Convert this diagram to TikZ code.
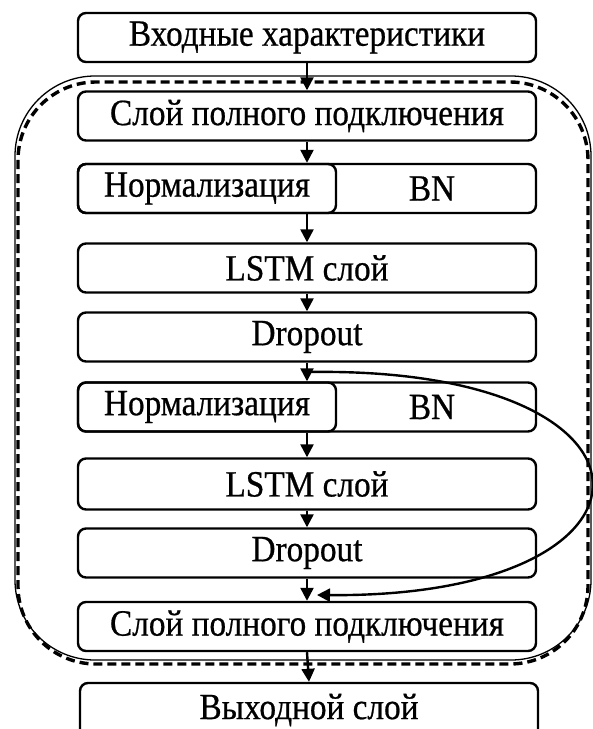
\documentclass[tikz,border=0pt]{standalone}
\usepackage{fontspec}
\setmainfont{Liberation Serif}[FakeStretch=0.9, FakeBold=0.6]
\usetikzlibrary{arrows.meta}
\tikzset{
  lbl/.style={font=\fontsize{37}{42}\selectfont},
  box/.style={draw, line width=2.4pt, rounded corners=8pt, minimum width=458pt, minimum height=49pt, inner sep=0pt, lbl},
  lbox/.style={draw, line width=2.4pt, rounded corners=8pt, minimum width=258pt, minimum height=49pt, inner sep=0pt, lbl},
  plain/.style={inner sep=0pt, lbl},
  arr/.style={line width=2.4pt, -{Triangle[length=13pt,width=13pt]}},
  cont/.style={line width=1.3pt, rounded corners=80pt},
  dcont/.style={line width=3.4pt, dash pattern=on 9pt off 5pt, rounded corners=78pt}
}
\begin{document}
\begin{tikzpicture}[x=1pt,y=-1pt]
\useasboundingbox (0,0) rectangle (593,729);
\clip (0,0) rectangle (593,729);
% container
\draw[cont] (15,76) rectangle (591,660);
\draw[dcont] (18,82) rectangle (588,664);
% boxes
\node[box, fill=white] (in) at (307,37.5) {Входные характеристики};
\node[box] (fc1) at (307,116) {Слой полного подключения};
\node[box] (bn1) at (307,188.5) {};
\node[lbox] (nm1) at (207,188.5) {Нормализация};
\node[plain] (bt1) at (432,188.5) {BN};
\node[box] (lstm1) at (307,268) {LSTM слой};
\node[box] (do1) at (307,337) {Dropout};
\node[box] (bn2) at (307,407) {};
\node[lbox] (nm2) at (207,407) {Нормализация};
\node[plain] (bt2) at (432,407) {BN};
\node[box, minimum height=51pt] (lstm2) at (307,484) {LSTM слой};
\node[box] (do2) at (307,553) {Dropout};
\node[box] (fc2) at (307,626.5) {Слой полного подключения};
\node[box, minimum height=54pt] (out) at (309,710) {Выходной слой};
% arrows
\draw[arr] (in.south) -- (fc1.north);
\draw[arr] (fc1.south) -- (bn1.north);
\draw[arr] (bn1.south) -- (lstm1.north);
\draw[arr] (lstm1.south) -- (do1.north);
\draw[arr] (do1.south) -- (bn2.north);
\draw[arr] (bn2.south) -- (lstm2.north);
\draw[arr] (lstm2.south) -- (do2.north);
\draw[arr] (do2.south) -- (fc2.north);
\draw[arr] (fc2.south) -- (out.north);
% skip connection
\coordinate (cs) at (309,372);
\coordinate (ce) at (317,595);
\draw[arr] (cs) .. controls (684,366) and (684,598) .. (ce);
\end{tikzpicture}
\end{document}
